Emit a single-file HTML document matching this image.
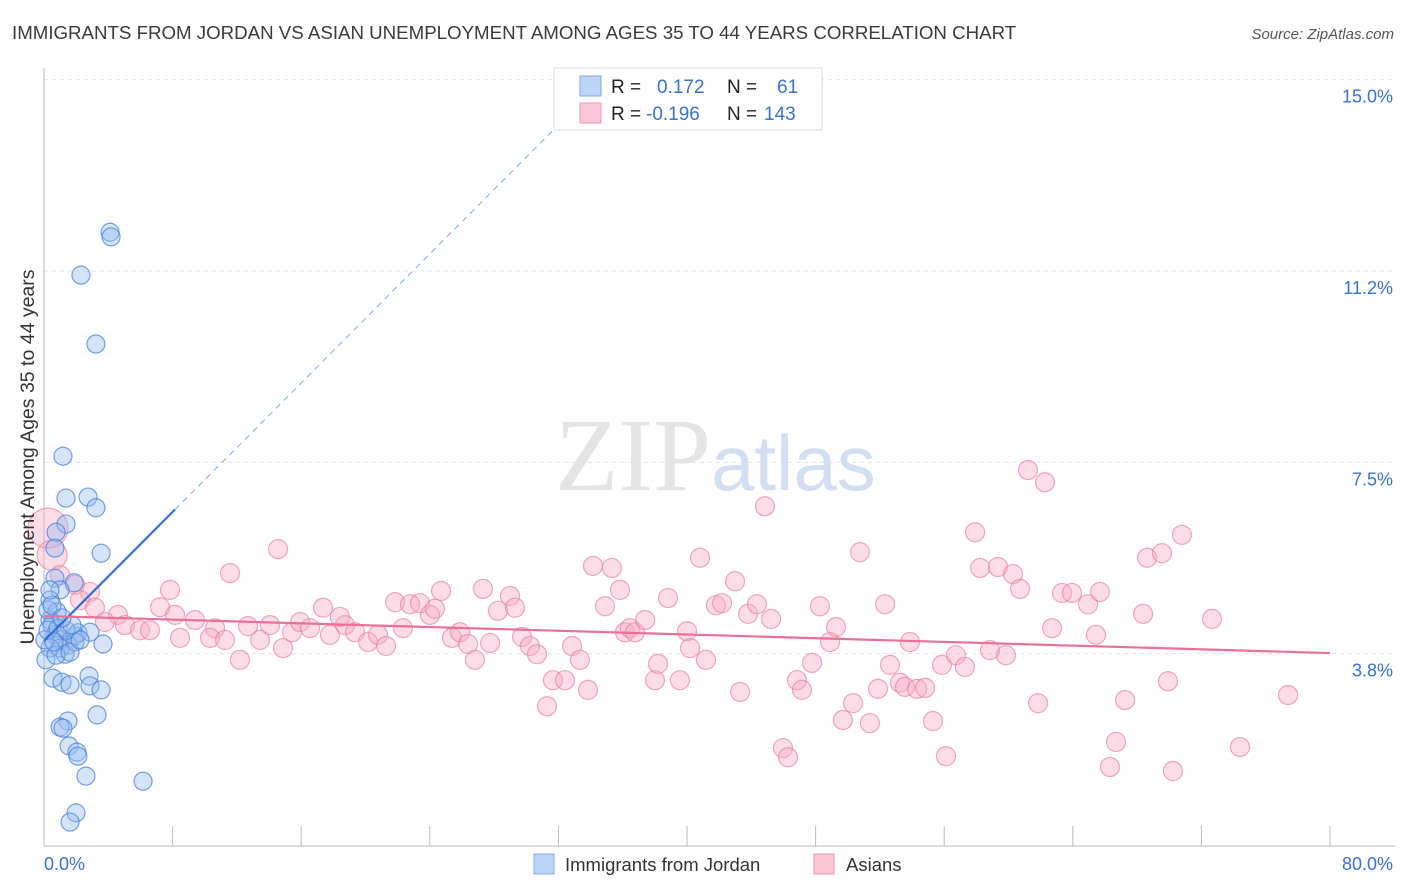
<!DOCTYPE html>
<html><head><meta charset="utf-8"><style>
body{margin:0;background:#fff;font-family:"Liberation Sans",sans-serif;}
svg{display:block}
</style></head><body>
<svg id="chart" width="1406" height="892" xmlns="http://www.w3.org/2000/svg" font-family="Liberation Sans, sans-serif">
<text x="12" y="39" font-size="18.7" fill="#3a3a3a">IMMIGRANTS FROM JORDAN VS ASIAN UNEMPLOYMENT AMONG AGES 35 TO 44 YEARS CORRELATION CHART</text>
<text x="1394" y="39" font-size="15" fill="#555" font-style="italic" text-anchor="end">Source: ZipAtlas.com</text>
<g id="grid"></g>
<text x="555" y="490" font-size="104" fill="#e4e4e4" font-family="Liberation Serif, serif">ZIP<tspan fill="#d2dff2" font-family="Liberation Sans, sans-serif" font-size="78">atlas</tspan></text>
<line x1="44" y1="68" x2="44" y2="846" stroke="#bbb"/>
<line x1="44" y1="846" x2="1395" y2="846" stroke="#bbb"/>
<g id="ticks"></g>
<g id="marks"></g>
<g id="trends"></g>
<text transform="translate(34,457) rotate(-90)" font-size="19.5" fill="#333" text-anchor="middle">Unemployment Among Ages 35 to 44 years</text>
<g>
<rect x="554" y="68" width="268" height="62" fill="#fff" stroke="#ddd"/>
<rect x="580" y="76" width="21" height="20" fill="#bcd4f6" stroke="#7fa8e6"/>
<rect x="580" y="103" width="21" height="20" fill="#fcc6d6" stroke="#ef97b3"/>
<text x="611" y="93" font-size="19" fill="#222">R = <tspan fill="#3572d6" x="657">0.172</tspan><tspan fill="#222" x="727">N =</tspan><tspan fill="#3572d6" x="777">61</tspan></text>
<text x="611" y="120" font-size="19" fill="#222">R = <tspan fill="#3572d6" x="646">-0.196</tspan><tspan fill="#222" x="727">N =</tspan><tspan fill="#3572d6" x="764">143</tspan></text>
</g>
<g>
<rect x="534" y="854" width="20" height="20" fill="#bcd4f6" stroke="#7fa8e6"/>
<text x="565" y="871" font-size="18.5" fill="#333">Immigrants from Jordan</text>
<rect x="814" y="854" width="20" height="20" fill="#fcc6d6" stroke="#ef97b3"/>
<text x="846" y="871" font-size="18.5" fill="#333">Asians</text>
</g>
</svg>
<script>
const yTicks=[3.75,7.5,11.25,15];
const yTickLabels=["3.8%","7.5%","11.2%","15.0%"];
const xTickVals=[0,8,16,24,32,40,48,56,64,72,80];
const xEndLabels=["0.0%","80.0%"];
const jordanX=[4.11,4.17,2.30,3.23,1.18,1.37,2.74,3.23,1.37,0.75,3.55,0.68,0.68,1.87,1.0,0.37,0.81,0.37,0.5,0.68,1.0,1.93,2.11,1.49,1.0,0.37,1.31,3.67,2.86,1.93,0.56,1.12,1.62,2.8,2.86,3.55,3.3,1.49,1.0,1.18,1.56,2.05,2.11,2.61,6.16,1.99,1.62,0.25,0.5,0.37,0.06,0.25,0.87,1.37,0.12,0.75,1.62,2.24,1.74,1.12,0.62];
const jordanY=[12.01,11.92,11.17,9.82,7.62,6.80,6.82,6.61,6.29,6.13,5.72,5.82,5.23,5.14,5.0,4.80,4.57,4.41,4.31,4.12,4.02,4.10,4.16,3.92,3.86,3.86,3.74,3.94,4.17,3.98,3.27,3.19,3.14,3.31,3.12,3.04,2.55,2.43,2.31,2.29,1.94,1.82,1.74,1.35,1.25,0.63,0.45,4.61,4.70,5.0,4.02,4.21,4.25,4.21,3.63,3.72,3.78,4.02,4.31,4.45,3.98];
const asianX=[0.25,0.5,1.0,1.93,2.86,2.24,3.17,4.6,3.79,5.04,5.97,6.59,7.84,7.22,8.15,9.39,8.46,10.64,10.33,11.57,12.19,11.26,12.69,13.44,14.56,14.06,14.87,15.43,15.93,16.55,17.36,17.79,18.72,18.41,19.35,20.16,20.78,21.28,21.84,22.33,22.77,23.39,24.01,24.32,24.70,25.38,25.88,26.38,26.81,27.31,27.75,28.24,28.99,29.30,29.74,30.23,30.67,31.29,31.66,32.41,32.85,33.34,33.84,34.15,34.90,35.33,35.83,36.14,36.45,36.76,37.39,38.01,38.20,38.82,39.56,40.0,40.19,40.81,41.18,41.80,42.18,42.99,43.30,43.80,44.35,44.85,45.23,45.97,46.28,46.84,47.15,47.78,48.27,48.90,49.27,49.70,50.33,50.76,51.38,51.88,52.32,52.63,53.25,53.56,53.87,54.31,54.81,55.30,55.86,56.11,56.73,57.29,57.92,58.23,58.85,59.35,59.84,60.28,60.72,61.21,61.84,62.27,62.71,63.33,63.95,64.95,65.44,65.69,66.31,66.69,67.25,68.37,68.62,69.55,69.92,70.23,70.79,72.66,74.40,77.39];
const asianY=[6.21,5.68,5.29,5.10,4.96,4.80,4.65,4.51,4.37,4.31,4.21,4.21,5.0,4.66,4.51,4.41,4.06,4.25,4.06,5.33,3.63,4.02,4.29,4.02,5.80,4.31,3.86,4.17,4.37,4.25,4.65,4.12,4.31,4.47,4.17,3.98,4.12,3.90,4.76,4.25,4.72,4.74,4.51,4.63,4.98,4.06,4.17,3.94,3.63,5.02,3.96,4.59,4.88,4.65,4.08,3.90,3.74,2.72,3.23,3.23,3.90,3.63,3.04,5.47,4.68,5.43,5.0,4.17,4.25,4.17,4.41,3.23,3.55,4.84,3.23,4.19,3.86,5.63,3.63,4.70,4.74,5.17,3.0,4.53,4.72,6.64,4.43,1.90,1.72,3.23,3.04,3.57,4.68,3.98,4.27,2.45,2.78,5.74,2.39,3.06,4.72,3.53,3.18,3.10,3.98,3.06,3.08,2.43,3.53,1.74,3.72,3.49,6.13,5.43,3.82,5.45,3.72,5.31,5.02,7.35,2.78,7.11,4.25,4.94,4.94,4.72,4.12,4.96,1.53,2.02,2.84,4.53,5.63,5.72,3.21,1.45,6.08,4.43,1.92,2.94];
const jordanTrend=[4.0,0.316];
const asianTrend=[4.49,-0.0091];

const X=v=>44+v*16.075;
const Y=v=>845-v*51.02;
const NS="http://www.w3.org/2000/svg";
function mk(tag,parent,attrs){const e=document.createElementNS(NS,tag);for(const k in attrs)e.setAttribute(k,attrs[k]);document.getElementById(parent).appendChild(e);return e;}

yTicks.forEach((t,i)=>{
  const g=mk('line','grid',{x1:44,x2:1395,y1:Y(t),y2:Y(t),stroke:'#e2e2e2','stroke-dasharray':'4,4'});
  
  
  const l=mk('text','ticks',{x:1393,y:Y(t)+23,'font-size':18,fill:'#3572d6','text-anchor':'end'});
  l.textContent=yTickLabels[i];
  
  
});
xTickVals.forEach(t=>{
  const e=mk('line','ticks',{x1:X(t),x2:X(t),y1:826,y2:846,stroke:'#bbb'});
  
  
});
const xl0=mk('text','ticks',{x:44,y:870,'font-size':18,fill:'#3572d6'});
xl0.textContent=xEndLabels[0];


const xl1=mk('text','ticks',{x:1393,y:870,'font-size':18,fill:'#3572d6','text-anchor':'end'});
xl1.textContent=xEndLabels[1];



asianX.forEach((x,i)=>{
  const r=i===0?20:(i===1?15:9.5);
  const c=mk('circle','marks',{cx:X(x),cy:Y(asianY[i]),r:r,fill:'rgba(248,170,195,0.4)',stroke:'rgba(232,130,165,0.7)','stroke-width':1.2});
  
  
});
jordanX.forEach((x,i)=>{
  const c=mk('circle','marks',{cx:X(x),cy:Y(jordanY[i]),r:9,fill:'rgba(150,188,240,0.4)',stroke:'rgba(70,130,220,0.75)','stroke-width':1.2});
  
  
});

const jEnd=8.15, jTop=(15-jordanTrend[0])/jordanTrend[1];
const js=mk('line','trends',{x1:X(0),y1:Y(jordanTrend[0]),x2:X(jEnd),y2:Y(jordanTrend[0]+jordanTrend[1]*jEnd),stroke:'#2f6fd6','stroke-width':2.2});


const jd=mk('line','trends',{x1:X(jEnd),y1:Y(jordanTrend[0]+jordanTrend[1]*jEnd),x2:X(jTop),y2:Y(15),stroke:'#7fa8e6','stroke-width':1,'stroke-dasharray':'6,5'});


const as=mk('line','trends',{x1:X(0),y1:Y(asianTrend[0]),x2:X(80),y2:Y(asianTrend[0]+asianTrend[1]*80),stroke:'#e8709a','stroke-width':2.2});


</script>
</body></html>
